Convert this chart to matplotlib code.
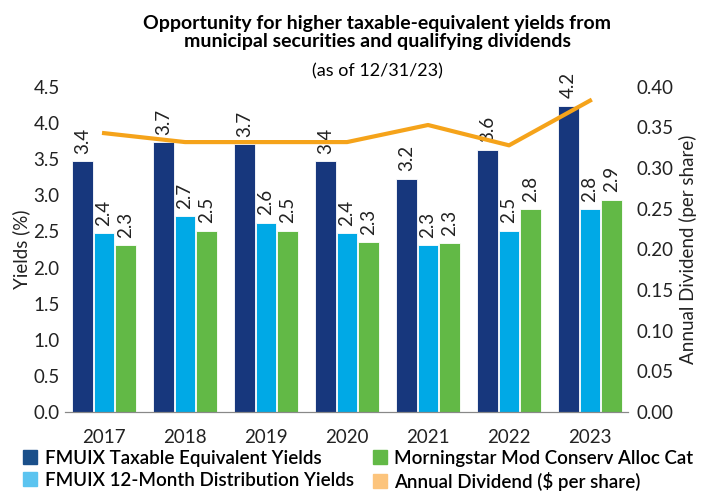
import numpy as np
import matplotlib
matplotlib.use('Agg')
import matplotlib.pyplot as plt
from matplotlib.patches import Patch

plt.rcParams['font.family'] = ['Lato', 'DejaVu Sans']

years = ['2017', '2018', '2019', '2020', '2021', '2022', '2023']
taxable_eq = [3.47, 3.73, 3.71, 3.47, 3.23, 3.63, 4.24]
taxable_eq_lbl = ['3.4', '3.7', '3.7', '3.4', '3.2', '3.6', '4.2']
dist_12m = [2.48, 2.71, 2.62, 2.48, 2.31, 2.51, 2.81]
dist_12m_lbl = ['2.4', '2.7', '2.6', '2.4', '2.3', '2.5', '2.8']
mstar = [2.31, 2.51, 2.51, 2.35, 2.34, 2.81, 2.94]
mstar_lbl = ['2.3', '2.5', '2.5', '2.3', '2.3', '2.8', '2.9']
dividend = [0.343, 0.332, 0.332, 0.332, 0.353, 0.328, 0.383]

navy = '#17377d'
lblue = '#00a9e6'
green = '#62b946'
orange = '#f5a31a'

fig = plt.figure(figsize=(7.01, 4.93), dpi=100)
ax = fig.add_axes([0.093, 0.164, 0.803, 0.66])
ax2 = ax.twinx()

x = np.arange(len(years))
w = 0.25
off = 0.265
series = [(taxable_eq, taxable_eq_lbl, navy, -off),
          (dist_12m, dist_12m_lbl, lblue, 0),
          (mstar, mstar_lbl, green, off)]
for vals, lbls, col, o in series:
    bars = ax.bar(x + o, vals, w, color=col, edgecolor='white', linewidth=0.6, zorder=2)
    for b, lb in zip(bars, lbls):
        ax.text(b.get_x() + b.get_width() / 2, b.get_height() + 0.1, lb,
                rotation=90, ha='center', va='bottom', fontsize=13.5, color='#222222')

ax2.plot(x, dividend, color=orange, linewidth=3, zorder=3)

ax.set_xlim(-0.48, 6.47)
ax.set_ylim(0, 4.5)
ax.set_yticks(np.arange(0, 4.51, 0.5))
ax.set_yticklabels([f'{v:.1f}' for v in np.arange(0, 4.51, 0.5)])
ax2.set_ylim(0, 0.40)
ax2.set_yticks(np.arange(0, 0.401, 0.05))
ax2.set_yticklabels([f'{v:.2f}' for v in np.arange(0, 0.401, 0.05)])
ax.set_xticks(x)
ax.set_xticklabels(years)

for a in (ax, ax2):
    for s in ('top', 'left', 'right'):
        a.spines[s].set_visible(False)
    a.spines['bottom'].set_color('#888888')
    a.tick_params(length=0, labelsize=13.5, colors='#222222')
ax.tick_params(axis='x', pad=12)
ax.tick_params(axis='y', pad=4)
ax2.tick_params(axis='y', pad=6)
ax.set_ylabel('Yields (%)', fontsize=13.5, color='#222222', labelpad=2)
ax2.set_ylabel('Annual Dividend (per share)', fontsize=13.5, color='#222222', labelpad=4)

fig.text(0.538, 0.97, 'Opportunity for higher taxable-equivalent yields from\nmunicipal securities and qualifying dividends',
         ha='center', va='top', fontsize=14, fontweight='bold', linespacing=1.1)
fig.text(0.538, 0.855, '(as of 12/31/23)', ha='center', va='center', fontsize=13)

handles = [Patch(color='#1a4f8a'), Patch(color='#5bc4f0'),
           Patch(color='#62b946'), Patch(color='#fcc47c')]
labels = ['FMUIX Taxable Equivalent Yields', 'FMUIX 12-Month Distribution Yields',
          'Morningstar Mod Conserv Alloc Cat', 'Annual Dividend ($ per share)']
leg = fig.legend(handles, labels, ncol=2, loc='lower left', bbox_to_anchor=(0.02, -0.014),
                 frameon=False, borderpad=0, handlelength=0.75, handleheight=0.75,
                 handletextpad=0.4, columnspacing=1.0, labelspacing=0.25,
                 prop={'weight': 'semibold', 'size': 13.5})

fig.savefig('out.png', dpi=100)
